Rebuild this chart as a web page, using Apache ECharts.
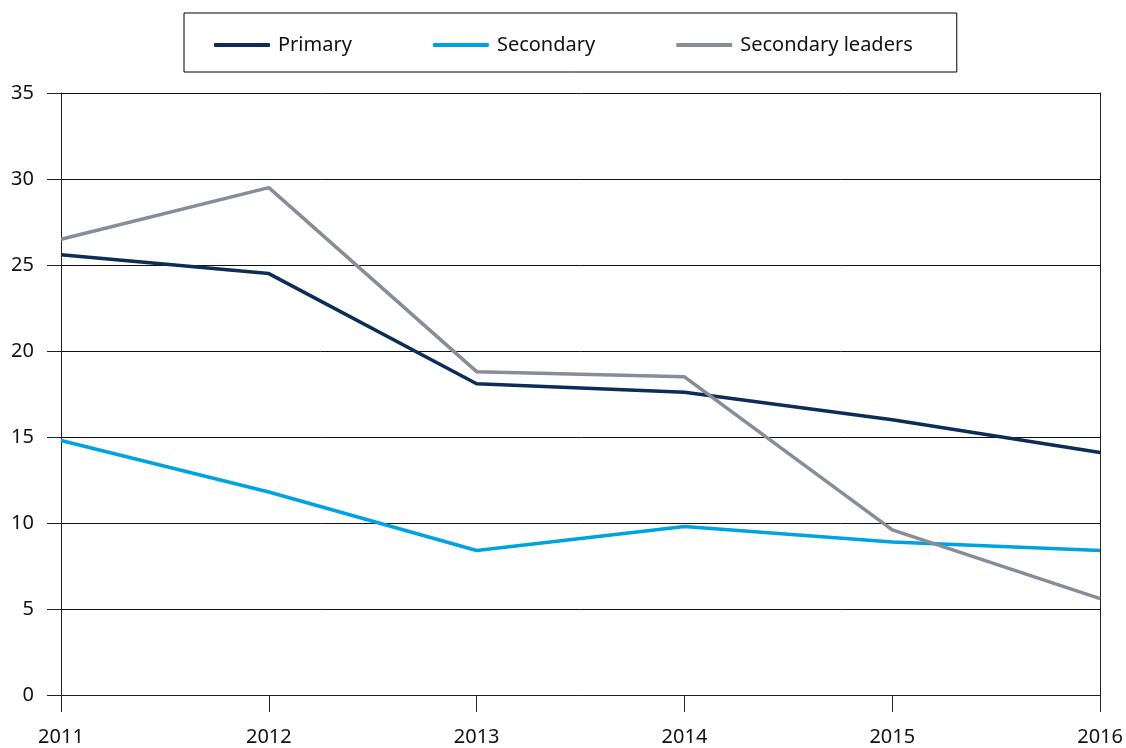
<!DOCTYPE html>
<html>
<head>
<meta charset="utf-8">
<script src="https://cdn.jsdelivr.net/npm/echarts@6/dist/echarts.min.js"></script>
<style>
	html, body { margin: 0; padding: 0; background: #fff; }
	#chart { width: 1126px; height: 748px; }
</style>
</head>
<body>
<div id="chart"></div>
<script>
// years along the x axis
var years = ['2011', '2012', '2013', '2014', '2015', '2016'];

// series values
var primary = [25.6, 24.5, 18.1, 17.6, 16.0, 14.1];
var secondary = [14.8, 11.8, 8.4, 9.8, 8.9, 8.4];
var secondaryLeaders = [26.5, 29.5, 18.8, 18.5, 9.6, 5.6];

var fontName = '"Noto Sans", "Open Sans", sans-serif';

var myChart = echarts.init(document.getElementById('chart'), null, { renderer: 'canvas' });

function lineSeries(name, data, color) {
	return {
		name: name,
		type: 'line',
		data: data,
		symbol: 'none',
		lineStyle: { color: color, width: 3.5 },
		itemStyle: { color: color },
		z: 3
	};
}

var option = {
	backgroundColor: '#fff',
	animation: false,
	textStyle: { fontFamily: fontName },
	legend: {
		left: 184,
		top: 13,
		padding: [22, 44, 17, 30],
		borderColor: '#000',
		borderWidth: 1,
		itemWidth: 56,
		itemHeight: 4,
		itemGap: 81,
		icon: 'roundRect',
		textStyle: { fontSize: 20, color: '#111', fontFamily: fontName, padding: [0, 0, 0, 3] },
		data: ['Primary', 'Secondary', 'Secondary leaders']
	},
	grid: {
		left: 61,
		right: 22,
		top: 93,
		bottom: 53
	},
	xAxis: {
		type: 'category',
		data: years,
		boundaryGap: false,
		axisLine: { lineStyle: { color: '#222', width: 1 } },
		axisTick: { show: true, length: 17, alignWithLabel: true, lineStyle: { color: '#222' } },
		axisLabel: { margin: 32, fontSize: 20, color: '#111', fontFamily: fontName },
		splitLine: { show: false }
	},
	yAxis: [{
		type: 'value',
		min: 0,
		max: 35,
		interval: 5,
		axisLine: { show: true, lineStyle: { color: '#222', width: 1 } },
		axisTick: { show: true, length: 14, lineStyle: { color: '#222' } },
		axisLabel: { margin: 27, fontSize: 20, color: '#111', fontFamily: fontName },
		splitLine: { show: true, lineStyle: { color: '#111', width: 1 } }
	}, {
		// right border of the plot
		type: 'value',
		position: 'right',
		min: 0,
		max: 35,
		interval: 5,
		axisLine: { show: true, lineStyle: { color: '#222', width: 1 } },
		axisTick: { show: false },
		axisLabel: { show: false },
		splitLine: { show: false }
	}],
	series: [
		lineSeries('Primary', primary, '#0b2d57'),
		lineSeries('Secondary', secondary, '#00a3e2'),
		lineSeries('Secondary leaders', secondaryLeaders, '#878c98')
	]
};

myChart.setOption(option);
window.onresize = myChart.resize;
</script>
</body>
</html>
